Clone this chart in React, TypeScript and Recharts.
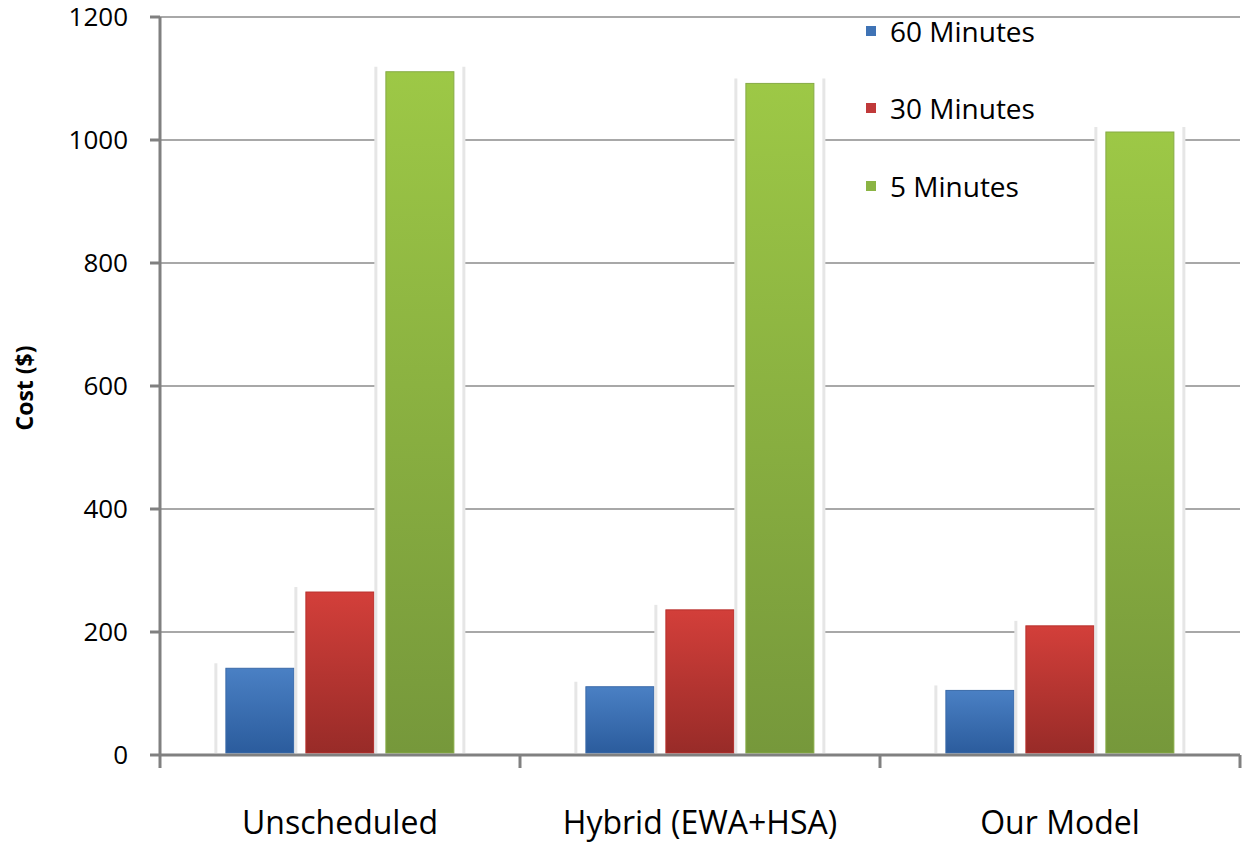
import { Bar, BarChart, CartesianGrid, Legend, XAxis, YAxis } from 'recharts';

const categories = ['Unscheduled', 'Hybrid (EWA+HSA)', 'Our Model'];
const min60 = [141, 111, 105];
const min30 = [265, 236, 210];
const min5 = [1111, 1092, 1013];
const yTicks = [0, 200, 400, 600, 800, 1000, 1200];

const data = categories.map((name, i) => ({
  name,
  m60: min60[i],
  m30: min30[i],
  m5: min5[i],
}));

const W = 1250;
const H = 845;
const PLOT_LEFT = 160;
const PLOT_RIGHT = 1240;
const BAND = (PLOT_RIGHT - PLOT_LEFT) / categories.length;
const FONT = '"Open Sans", "Liberation Sans", sans-serif';

const series = [
  { key: 'm60', name: '60 Minutes', grad: 'gBlue', edge: '#3b6aa8', swatch: '#3f73b5' },
  { key: 'm30', name: '30 Minutes', grad: 'gRed', edge: '#b8302c', swatch: '#c0393a' },
  { key: 'm5', name: '5 Minutes', grad: 'gGreen', edge: '#86ab45', swatch: '#8bb444' },
];

// bar with the soft white halo the original chart puts round each column
function HaloBar(props: any) {
  const { x, y, width, height, grad, edge } = props;
  if (!width || height == null) return null;
  const padX = 11;
  const padTop = 9;
  const bottom = y + height - 2;
  return (
    <g>
      <rect x={x - padX} y={y - padTop} width={width + padX * 2} height={height + padTop - 2} fill="#ffffff" />
      <line x1={x - padX + 1} x2={x - padX + 1} y1={y - padTop + 4} y2={bottom} stroke="#e6e6e6" strokeWidth={3} />
      <line
        x1={x + width + padX - 1}
        x2={x + width + padX - 1}
        y1={y - padTop + 4}
        y2={bottom}
        stroke="#e6e6e6"
        strokeWidth={3}
      />
      <rect x={x} y={y} width={width} height={height - 2} fill={`url(#${grad})`} stroke={edge} strokeWidth={1} />
    </g>
  );
}

function CategoryTick(props: any) {
  const { x, y, payload, index } = props;
  const last = index === categories.length - 1;
  return (
    <g>
      <line x1={x - BAND / 2} x2={x - BAND / 2} y1={y - 8} y2={y + 5} stroke="#808080" strokeWidth={3} />
      {last && <line x1={x + BAND / 2} x2={x + BAND / 2} y1={y - 8} y2={y + 5} stroke="#808080" strokeWidth={3} />}
      <text x={x} y={y + 58} textAnchor="middle" dominantBaseline="central" fill="#000" fontSize={32} fontFamily={FONT}>
        {payload.value}
      </text>
    </g>
  );
}

function LegendBox() {
  return (
    <div style={{ fontFamily: FONT }}>
      {series.map((s) => (
        <div key={s.key} style={{ display: 'flex', alignItems: 'center', height: 77.5 }}>
          <span style={{ width: 10, height: 10, background: s.swatch, marginRight: 14 }} />
          <span style={{ fontSize: 28, color: '#000', lineHeight: 1 }}>{s.name}</span>
        </div>
      ))}
    </div>
  );
}

export default function App() {
  return (
    <div style={{ position: 'absolute', left: 0, top: 0, width: W, height: H, background: '#fff' }}>
      <BarChart
        width={W}
        height={H}
        data={data}
        margin={{ top: 17, right: W - PLOT_RIGHT, bottom: 0, left: 0 }}
        barCategoryGap="18.3%"
        barGap={12}
      >
        <defs>
          <linearGradient id="gBlue" x1="0" y1="0" x2="0" y2="1">
            <stop offset="0%" stopColor="#4a80c4" />
            <stop offset="100%" stopColor="#2b5c9d" />
          </linearGradient>
          <linearGradient id="gRed" x1="0" y1="0" x2="0" y2="1">
            <stop offset="0%" stopColor="#d33f3a" />
            <stop offset="100%" stopColor="#982b28" />
          </linearGradient>
          <linearGradient id="gGreen" x1="0" y1="0" x2="0" y2="1">
            <stop offset="0%" stopColor="#9dc846" />
            <stop offset="100%" stopColor="#76983b" />
          </linearGradient>
        </defs>
        <CartesianGrid vertical={false} stroke="#a8a8a8" strokeWidth={2} />
        <XAxis
          dataKey="name"
          height={90}
          axisLine={{ stroke: '#808080', strokeWidth: 3 }}
          tickLine={false}
          tick={<CategoryTick />}
          interval={0}
        />
        <YAxis
          width={PLOT_LEFT}
          domain={[0, 1200]}
          ticks={yTicks}
          interval={0}
          axisLine={{ stroke: '#808080', strokeWidth: 3 }}
          tickLine={{ stroke: '#808080', strokeWidth: 3 }}
          tickSize={10}
          tickMargin={22}
          tick={{ fill: '#000', fontSize: 26, fontFamily: FONT }}
          label={{
            content: () => (
              <text
                x={24}
                y={388}
                transform="rotate(-90 24 388)"
                textAnchor="middle"
                dominantBaseline="central"
                fontSize={23}
                fontWeight="bold"
                fontFamily={FONT}
                fill="#000"
              >
                Cost ($)
              </text>
            ),
          }}
        />
        <Legend
          layout="vertical"
          align="center"
          verticalAlign="middle"
          content={<LegendBox />}
          wrapperStyle={{ top: -8, left: 866, width: 220 }}
        />
        {series.map((s) => (
          <Bar
            key={s.key}
            dataKey={s.key}
            name={s.name}
            fill={s.swatch}
            isAnimationActive={false}
            shape={(p: any) => <HaloBar {...p} grad={s.grad} edge={s.edge} />}
          />
        ))}
      </BarChart>
    </div>
  );
}
